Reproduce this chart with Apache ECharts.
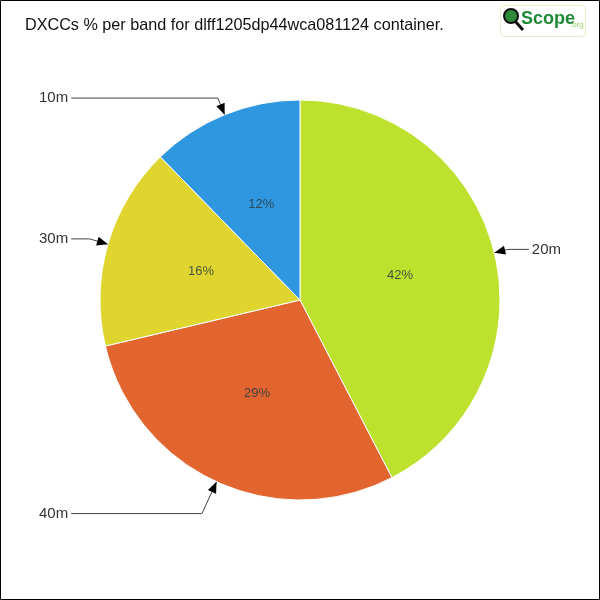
<!DOCTYPE html>
<html>
<head>
<meta charset="utf-8">
<script src="https://cdn.jsdelivr.net/npm/echarts@6/dist/echarts.min.js"></script>
<style>
html,body{margin:0;padding:0;background:#fff;}
#chart{width:600px;height:600px;}
</style>
</head>
<body>
<div id="chart"></div>
<script>
// ---- data ----
const titleText = 'DXCCs % per band for dlff1205dp44wca081124 container.';
const categories = ['20m', '40m', '30m', '10m'];
const values = [42.4, 28.9, 16.4, 12.3];

// ---- styles ----
const colors = ['#bee12e', '#e2652f', '#e0d52e', '#2f97df'];
const lineLengths = [14, 35, 19, 18];

const chart = echarts.init(document.getElementById('chart'), null, {renderer: 'canvas'});

const outerData = categories.map((c, i) => ({
  name: c,
  value: values[i],
  itemStyle: {color: colors[i]},
  labelLine: {length: lineLengths[i]}
}));
const innerData = categories.map((c, i) => ({name: c, value: values[i]}));

chart.setOption({
  animation: false,
  backgroundColor: '#fff',
  title: {
    text: titleText,
    left: 20, top: 13,
    textStyle: {fontFamily: 'Liberation Sans', fontSize: 16.2, fontWeight: 'normal', color: '#111'}
  },
  series: [
    {
      type: 'pie',
      center: [300, 300],
      radius: [0, 200],
      startAngle: 90,
      clockwise: true,
      silent: true,
      itemStyle: {borderColor: '#fff', borderWidth: 1},
      label: {
        show: true,
        position: 'outside',
        alignTo: 'edge',
        edgeDistance: 39,
        distanceToLabelLine: 3,
        formatter: '{b}',
        fontFamily: 'Liberation Sans',
        fontSize: 15,
        color: '#333'
      },
      labelLine: {show: true, length2: 10, lineStyle: {color: '#444', width: 1}},
      data: outerData
    },
    {
      type: 'pie',
      center: [300, 300],
      radius: [0, 200],
      startAngle: 90,
      clockwise: true,
      silent: true,
      itemStyle: {color: 'rgba(0,0,0,0)', borderWidth: 0},
      label: {
        show: true,
        position: 'inside',
        formatter: p => Math.round(p.percent) + '%',
        fontFamily: 'Liberation Sans',
        fontSize: 13,
        color: 'rgba(45,60,65,0.85)'
      },
      labelLine: {show: false},
      data: innerData
    }
  ]
});

// arrows at the pie edge, derived from the library's layout
const graphics = [];
const data = chart.getModel().getSeriesByIndex(0).getData();
for (let i = 0; i < data.count(); i++) {
  const L = data.getItemLayout(i);
  const mid = (L.startAngle + L.endAngle) / 2;
  const dx = Math.cos(mid), dy = Math.sin(mid);
  const tx = L.cx + L.r * dx, ty = L.cy + L.r * dy;
  const bx = tx + 11 * dx, by = ty + 11 * dy;
  const px = -dy, py = dx;
  graphics.push({
    type: 'polygon', silent: true, z: 100,
    shape: {points: [[tx, ty], [bx + 4.5 * px, by + 4.5 * py], [bx - 4.5 * px, by - 4.5 * py]]},
    style: {fill: '#000'}
  });
}
// frame
graphics.push({type: 'rect', silent: true, z: 100, shape: {x: 0.5, y: 0.5, width: 599, height: 599},
  style: {fill: null, stroke: '#000', lineWidth: 1}});
// logo
graphics.push({type: 'rect', silent: true, shape: {x: 500.5, y: 5.5, width: 85, height: 31, r: 4},
  style: {fill: '#fff', stroke: '#e6efc4', lineWidth: 1}});
graphics.push({type: 'line', silent: true, shape: {x1: 515, y1: 21, x2: 523, y2: 30},
  style: {stroke: '#111', lineWidth: 3}});
graphics.push({type: 'circle', silent: true, shape: {cx: 511, cy: 16, r: 7},
  style: {fill: '#2e8b3a', stroke: '#111', lineWidth: 2}});
graphics.push({type: 'text', silent: true, x: 521, y: 10,
  style: {text: 'Scope', fontFamily: 'Liberation Sans', fontSize: 18, fontWeight: 'bold', fill: '#1f8a35'}});
graphics.push({type: 'text', silent: true, x: 570, y: 21,
  style: {text: '.org', fontFamily: 'Liberation Sans', fontSize: 8, fill: '#9ccf6a'}});
chart.setOption({graphic: graphics});
</script>
</body>
</html>
